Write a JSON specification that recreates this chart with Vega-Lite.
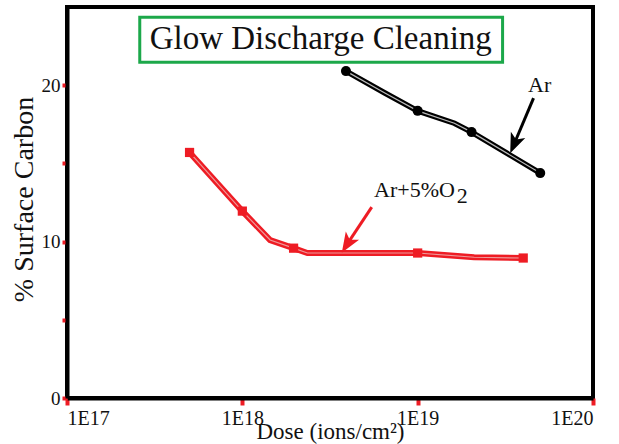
{
  "$schema": "https://vega.github.io/schema/vega-lite/v6.json",
  "width": 526,
  "height": 391,
  "autosize": {"type": "none"},
  "padding": {"left": 67, "top": 7, "right": 26, "bottom": 46},
  "background": "white",
  "view": {"stroke": "black", "strokeWidth": 4},
  "config": {
    "font": "Liberation Serif",
    "axis": {
      "domainColor": "black",
      "domainWidth": 4,
      "tickColor": "#ee1c24",
      "tickWidth": 4,
      "tickSize": 7,
      "grid": false,
      "labelColor": "#111",
      "titleFontWeight": "normal",
      "titleColor": "#111"
    }
  },
  "datasets": {
    "red": [
      {"dose": 5e17, "carbon": 15.7, "marker": true},
      {"dose": 1e18, "carbon": 11.95, "marker": true},
      {"dose": 1.44e18, "carbon": 10.1, "marker": false},
      {"dose": 1.96e18, "carbon": 9.58, "marker": true},
      {"dose": 2.35e18, "carbon": 9.27, "marker": false},
      {"dose": 1e19, "carbon": 9.27, "marker": true},
      {"dose": 2.1e19, "carbon": 9.0, "marker": false},
      {"dose": 4e19, "carbon": 8.95, "marker": true}
    ],
    "black": [
      {"dose": 3.9e18, "carbon": 20.9, "marker": true},
      {"dose": 6.5e18, "carbon": 19.5, "marker": false},
      {"dose": 1e19, "carbon": 18.36, "marker": true},
      {"dose": 1.62e19, "carbon": 17.57, "marker": false},
      {"dose": 2.03e19, "carbon": 17.0, "marker": true},
      {"dose": 5e19, "carbon": 14.38, "marker": true}
    ],
    "box": [{"x1": 2.6e17, "x2": 3.05e19, "y1": 21.47, "y2": 24.35, "tx": 2.8e18, "ty": 22.95, "label": "Glow Discharge Cleaning"}],
    "arrows": [
      {"series": "black", "x1": 4.58e19, "y1": 19.17, "x2": 3.6e19, "y2": 16.4, "hx": 3.57e19, "hy": 16.3, "angle": 203},
      {"series": "red", "x1": 5.47e18, "y1": 12.2, "x2": 4.05e18, "y2": 10.0, "hx": 3.99e18, "hy": 9.9, "angle": 212}
    ],
    "labels": [
      {"x": 4.96e19, "y": 19.55, "text": "Ar", "align": "center"},
      {"x": 1.63e19, "y": 12.84, "text": "Ar+5%O", "align": "right"},
      {"x": 1.67e19, "y": 12.45, "text": "2", "align": "left"}
    ]
  },
  "layer": [
    {
      "data": {"name": "box"},
      "mark": {"type": "rect", "fill": "white", "stroke": "#1ca84a", "strokeWidth": 3},
      "encoding": {
        "x": {"field": "x1", "type": "quantitative", "scale": {"type": "log", "domain": [1e17, 1e20], "nice": false},
          "axis": {"values": [1e17, 1e18, 1e19, 1e20], "labelExpr": "'1E' + round(log(datum.value)/LN10)", "title": "Dose (ions/cm²)", "titleFont": "Liberation Serif", "titleFontSize": 23, "titleBaseline": "alphabetic", "titlePadding": 10, "labelPadding": 3, "labelFont": "Liberation Serif", "labelFontSize": 20}},
        "x2": {"field": "x2"},
        "y": {"field": "y1", "type": "quantitative", "scale": {"domain": [0, 25], "nice": false, "zero": false},
          "axis": {"values": [0, 5, 10, 15, 20], "labelExpr": "datum.value % 10 == 0 ? datum.label : ''", "title": "% Surface Carbon", "titleFont": "Liberation Serif", "titleFontSize": 28, "titlePadding": 3, "titleY": 192, "labelPadding": 2, "tickSize": 5, "labelFont": "Liberation Serif", "labelFontSize": 19}},
        "y2": {"field": "y2"}
      }
    },
    {
      "data": {"name": "box"},
      "mark": {"type": "text", "fontSize": 33, "font": "Liberation Serif", "color": "#111", "align": "center", "baseline": "middle"},
      "encoding": {
        "x": {"field": "tx", "type": "quantitative"},
        "y": {"field": "ty", "type": "quantitative"},
        "text": {"field": "label"}
      }
    },
    {
      "data": {"name": "red"},
      "mark": {"type": "line", "color": "#ee1c24", "strokeWidth": 6},
      "encoding": {"x": {"field": "dose", "type": "quantitative"}, "y": {"field": "carbon", "type": "quantitative"}}
    },
    {
      "data": {"name": "red"},
      "mark": {"type": "line", "color": "#e99", "strokeWidth": 1.2},
      "encoding": {"x": {"field": "dose", "type": "quantitative"}, "y": {"field": "carbon", "type": "quantitative"}}
    },
    {
      "data": {"name": "red"},
      "transform": [{"filter": "datum.marker"}],
      "mark": {"type": "point", "shape": "square", "filled": true, "color": "#ee1c24", "size": 85, "opacity": 1},
      "encoding": {"x": {"field": "dose", "type": "quantitative"}, "y": {"field": "carbon", "type": "quantitative"}}
    },
    {
      "data": {"name": "black"},
      "mark": {"type": "line", "color": "black", "strokeWidth": 5.5},
      "encoding": {"x": {"field": "dose", "type": "quantitative"}, "y": {"field": "carbon", "type": "quantitative"}}
    },
    {
      "data": {"name": "black"},
      "mark": {"type": "line", "color": "#bbb", "strokeWidth": 1.2},
      "encoding": {"x": {"field": "dose", "type": "quantitative"}, "y": {"field": "carbon", "type": "quantitative"}}
    },
    {
      "data": {"name": "black"},
      "transform": [{"filter": "datum.marker"}],
      "mark": {"type": "point", "shape": "circle", "filled": true, "color": "black", "size": 100, "opacity": 1},
      "encoding": {"x": {"field": "dose", "type": "quantitative"}, "y": {"field": "carbon", "type": "quantitative"}}
    },
    {
      "data": {"name": "arrows"},
      "mark": {"type": "rule", "strokeWidth": 3},
      "encoding": {
        "x": {"field": "x1", "type": "quantitative"},
        "y": {"field": "y1", "type": "quantitative"},
        "x2": {"field": "x2"},
        "y2": {"field": "y2"},
        "color": {"field": "series", "type": "nominal", "scale": {"domain": ["black", "red"], "range": ["black", "#ee1c24"]}, "legend": null}
      }
    },
    {
      "data": {"name": "arrows"},
      "mark": {"type": "point", "shape": "M0,-1L0.7,0.8L0,0.35L-0.7,0.8Z", "filled": true, "size": 500, "opacity": 1},
      "encoding": {
        "x": {"field": "hx", "type": "quantitative"},
        "y": {"field": "hy", "type": "quantitative"},
        "angle": {"field": "angle", "type": "quantitative", "scale": null},
        "color": {"field": "series", "type": "nominal", "scale": {"domain": ["black", "red"], "range": ["black", "#ee1c24"]}, "legend": null}
      }
    },
    {
      "data": {"name": "labels"},
      "transform": [{"filter": "datum.align == 'center'"}],
      "mark": {"type": "text", "fontSize": 22, "font": "Liberation Serif", "color": "#111", "baseline": "alphabetic", "align": "center"},
      "encoding": {
        "x": {"field": "x", "type": "quantitative"},
        "y": {"field": "y", "type": "quantitative"},
        "text": {"field": "text"}
      }
    },
    {
      "data": {"name": "labels"},
      "transform": [{"filter": "datum.align == 'right'"}],
      "mark": {"type": "text", "fontSize": 22, "font": "Liberation Serif", "color": "#111", "baseline": "alphabetic", "align": "right"},
      "encoding": {
        "x": {"field": "x", "type": "quantitative"},
        "y": {"field": "y", "type": "quantitative"},
        "text": {"field": "text"}
      }
    },
    {
      "data": {"name": "labels"},
      "transform": [{"filter": "datum.align == 'left'"}],
      "mark": {"type": "text", "fontSize": 22, "font": "Liberation Serif", "color": "#111", "baseline": "alphabetic", "align": "left"},
      "encoding": {
        "x": {"field": "x", "type": "quantitative"},
        "y": {"field": "y", "type": "quantitative"},
        "text": {"field": "text"}
      }
    }
  ]
}
